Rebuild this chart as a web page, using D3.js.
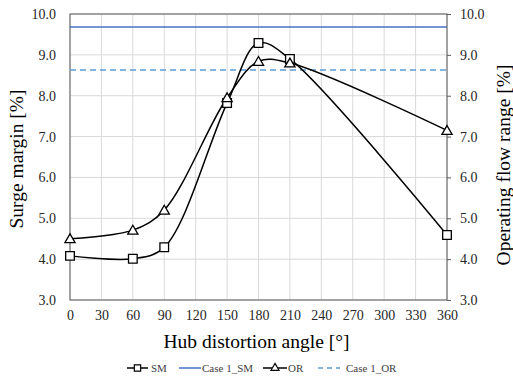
<!DOCTYPE html>
<html>
<head>
<meta charset="utf-8">
<script src="https://cdn.jsdelivr.net/npm/d3@7"></script>
<style>
  body { margin: 0; background: #fff; }
  svg, svg text { font-family: "Liberation Serif", "DejaVu Serif", serif !important; }
</style>
</head>
<body>
<svg id="chart" width="513" height="377"></svg>
<script>
const angles = [0, 60, 90, 150, 180, 210, 360];
const smValues = [4.08, 4.01, 4.29, 7.82, 9.29, 8.9, 4.59];
const orValues = [4.5, 4.71, 5.2, 7.95, 8.84, 8.8, 7.15];
const case1SM = 9.68;
const case1OR = 8.63;
const xTicks = d3.range(0, 361, 30);
const yTicks = [3, 4, 5, 6, 7, 8, 9, 10];

const svg = d3.select("#chart");
const plotLeft = 70, plotRight = 447, plotTop = 14, plotBottom = 300;

const x = d3.scaleLinear().domain([0, 360]).range([plotLeft, plotRight]);
const y = d3.scaleLinear().domain([3, 10]).range([plotBottom, plotTop]);

const grid = svg.append("g");
grid.selectAll("line.v").data(xTicks).enter().append("line")
    .attr("x1", d => x(d)).attr("x2", d => x(d))
    .attr("y1", plotTop).attr("y2", plotBottom)
    .attr("stroke", "#d9d9d9").attr("stroke-width", 1);
grid.selectAll("line.h").data(yTicks).enter().append("line")
    .attr("x1", plotLeft).attr("x2", plotRight)
    .attr("y1", d => y(d)).attr("y2", d => y(d))
    .attr("stroke", "#d9d9d9").attr("stroke-width", 1);

// plot box
svg.append("rect")
    .attr("x", plotLeft).attr("y", plotTop)
    .attr("width", plotRight - plotLeft).attr("height", plotBottom - plotTop)
    .attr("fill", "none").attr("stroke", "#595959").attr("stroke-width", 1);

// axes
const xAxis = svg.append("g").attr("transform", `translate(0,${plotBottom})`)
    .call(d3.axisBottom(x).tickValues(xTicks).tickSize(0).tickPadding(10));
const yAxisL = svg.append("g").attr("transform", `translate(${plotLeft},0)`)
    .call(d3.axisLeft(y).tickValues(yTicks).tickSize(0).tickPadding(14).tickFormat(d3.format(".1f")));
const yAxisR = svg.append("g").attr("transform", `translate(${plotRight},0)`)
    .call(d3.axisRight(y).tickValues(yTicks).tickSize(4).tickPadding(9).tickFormat(d3.format(".1f")));
[xAxis, yAxisL, yAxisR].forEach(a => {
    a.attr("font-family", null);
    a.select(".domain").remove();
    a.selectAll("text").attr("font-size", 14).attr("fill", "#262626");
    a.selectAll("line").attr("stroke", "#595959");
});

// reference lines
svg.append("line")
    .attr("x1", plotLeft).attr("x2", plotRight)
    .attr("y1", y(case1SM)).attr("y2", y(case1SM))
    .attr("stroke", "#4472c4").attr("stroke-width", 1.5);
svg.append("line")
    .attr("x1", plotLeft).attr("x2", plotRight)
    .attr("y1", y(case1OR)).attr("y2", y(case1OR))
    .attr("stroke", "#5b9bd5").attr("stroke-width", 1.5)
    .attr("stroke-dasharray", "6,4");

const line = d3.line().x(d => x(d[0])).y(d => y(d[1])).curve(d3.curveCatmullRom.alpha(0.5));
const smPts = angles.map((a, i) => [a, smValues[i]]);
const orPts = angles.map((a, i) => [a, orValues[i]]);

svg.append("path").datum(smPts).attr("d", line)
    .attr("fill", "none").attr("stroke", "#000").attr("stroke-width", 1.5);
svg.append("path").datum(orPts).attr("d", line)
    .attr("fill", "none").attr("stroke", "#000").attr("stroke-width", 1.5);

const square = d3.symbol().type(d3.symbolSquare).size(75);
const triangle = d3.symbol().type(d3.symbolTriangle).size(45);

svg.append("g").selectAll("path").data(smPts).enter().append("path")
    .attr("d", square)
    .attr("transform", d => `translate(${x(d[0])},${y(d[1])})`)
    .attr("fill", "#fff").attr("stroke", "#000").attr("stroke-width", 1.3);
svg.append("g").selectAll("path").data(orPts).enter().append("path")
    .attr("d", triangle)
    .attr("transform", d => `translate(${x(d[0])},${y(d[1]) + 1})`)
    .attr("fill", "#fff").attr("stroke", "#000").attr("stroke-width", 1.3);

// axis titles
svg.append("text")
    .attr("x", (plotLeft + plotRight) / 2 - 2).attr("y", 348)
    .attr("text-anchor", "middle").attr("font-size", 19.5).attr("fill", "#000")
    .text("Hub distortion angle [°]");
svg.append("text")
    .attr("transform", `translate(23,${(plotTop + plotBottom) / 2 + 2}) rotate(-90)`)
    .attr("text-anchor", "middle").attr("font-size", 19.5).attr("fill", "#000")
    .text("Surge margin [%]");
svg.append("text")
    .attr("transform", `translate(510,${(plotTop + plotBottom) / 2 + 8}) rotate(-90)`)
    .attr("text-anchor", "middle").attr("font-size", 19.5).attr("fill", "#000")
    .text("Operating flow range [%]");

// legend
const legendY = 368;
const legend = [
    {label: "SM", x1: 127, x2: 148, color: "#000", dash: null, marker: "square", tx: 151},
    {label: "Case 1_SM", x1: 179, x2: 201, color: "#4472c4", dash: null, marker: null, tx: 202},
    {label: "OR", x1: 263, x2: 287, color: "#000", dash: null, marker: "triangle", tx: 288},
    {label: "Case 1_OR", x1: 318, x2: 340, color: "#5b9bd5", dash: "5,4", marker: null, tx: 346}
];
const lg = svg.append("g").selectAll("g").data(legend).enter().append("g");
lg.append("line")
    .attr("x1", d => d.x1).attr("x2", d => d.x2)
    .attr("y1", legendY).attr("y2", legendY)
    .attr("stroke", d => d.color).attr("stroke-width", 1.5)
    .attr("stroke-dasharray", d => d.dash);
lg.filter(d => d.marker).append("path")
    .attr("d", d => d.marker === "square" ? d3.symbol().type(d3.symbolSquare).size(40)() : d3.symbol().type(d3.symbolTriangle).size(28)())
    .attr("transform", d => `translate(${(d.x1 + d.x2) / 2},${legendY})`)
    .attr("fill", "#fff").attr("stroke", "#000").attr("stroke-width", 1.2);
lg.append("text")
    .attr("x", d => d.tx).attr("y", legendY + 4)
    .attr("font-size", 11).attr("fill", "#404040")
    .text(d => d.label);
</script>
</body>
</html>
